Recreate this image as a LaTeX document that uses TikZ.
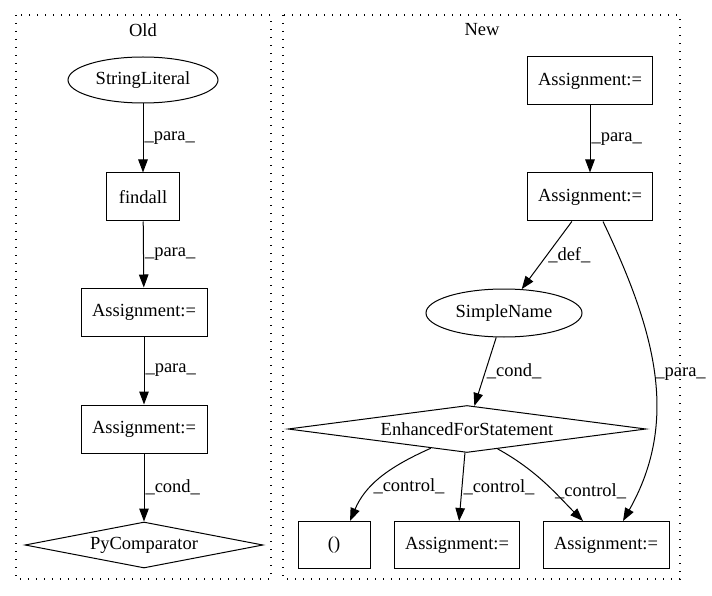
\documentclass[tikz,border=0pt]{standalone}
\usepackage{fontspec}
\setmainfont{Liberation Serif}
\usetikzlibrary{shapes.geometric, arrows.meta}

\begin{document}
\begin{tikzpicture}[x = 1pt, y = -1pt, font = \fontsize{18.5}{21}\selectfont,
  box/.style = {draw, line width = 1pt, minimum height = 48pt, inner sep = 0pt},
  oval/.style = {draw, ellipse, line width = 1pt, minimum height = 46pt, inner sep = 0pt},
  rhomb/.style = {draw, diamond, aspect = 8, line width = 1pt, minimum height = 47pt, inner sep = 0pt},
  edge/.style = {line width = 1pt, -{Triangle[length = 13pt, width = 9.5pt]}},
  lbl/.style = {anchor = west, inner sep = 1pt},
  cluster/.style = {line width = 1.4pt, dash pattern = on 1.4pt off 6.6pt}]
 \useasboundingbox (0, 0) rectangle (712, 596);
 % clusters
 \draw[cluster] (16, 15) rectangle (271, 579);
 \draw[cluster] (283, 15) rectangle (680, 579);
 \node (old) at (143, 30) {Old};
 \node (new) at (482, 30) {New};
 % old
 \node[oval, minimum width = 150pt] (sl) at (143, 80) {StringLiteral};
 \node[box, minimum width = 73pt] (fa) at (143, 197) {findall};
 \node[box, minimum width = 126pt] (oa1) at (144, 312) {Assignment:=};
 \node[box, minimum width = 126pt] (oa2) at (144, 429) {Assignment:=};
 \node[rhomb, minimum width = 238pt, minimum height = 46pt] (pc) at (144, 545) {PyComparator};
 \draw[edge] (sl) -- node[lbl] {\_para\_} (fa);
 \draw[edge] (fa) -- node[lbl] {\_para\_} (oa1);
 \draw[edge] (oa1) -- node[lbl] {\_para\_} (oa2);
 \draw[edge] (oa2) -- node[lbl] {\_cond\_} (pc);
 % new
 \node[box, minimum width = 125pt] (na1) at (590, 81) {Assignment:=};
 \node[box, minimum width = 125pt] (na2) at (590, 197) {Assignment:=};
 \node[oval, minimum width = 156pt, minimum height = 48pt] (sn) at (504, 313) {SimpleName};
 \node[rhomb, minimum width = 358pt] (efs) at (467, 429) {EnhancedForStatement};
 \node[box, minimum width = 72pt, minimum height = 47pt] (np) at (334, 545) {()};
 \node[box, minimum width = 125pt, minimum height = 47pt] (nm) at (457, 545) {Assignment:=};
 \node[box, minimum width = 126pt, minimum height = 47pt] (nr) at (606, 545) {Assignment:=};
 \draw[edge] (na1) -- node[lbl] {\_para\_} (na2);
 \draw[edge] (na2) -- node[lbl] {\_def\_} (sn);
 \draw[edge] ([xshift = 13pt]na2.south) .. controls +(52, 109) and +(57, -101) .. node[lbl] {\_para\_} ([xshift = 17pt]nr.north);
 \draw[edge] (sn) -- node[lbl] {\_cond\_} (efs);
 \draw[edge] (efs.-152) .. controls +(-45, 20) and +(15, -35) .. node[lbl, pos = .6] {\_control\_} ([xshift = 16pt]np.north);
 \draw[edge] (efs) -- node[lbl] {\_control\_} (nm);
 \draw[edge] (efs.-33) .. controls +(40, 22) and +(-25, -25) .. node[lbl, pos = .6] {\_control\_} ([xshift = -23pt]nr.north);
\end{tikzpicture}
\end{document}
